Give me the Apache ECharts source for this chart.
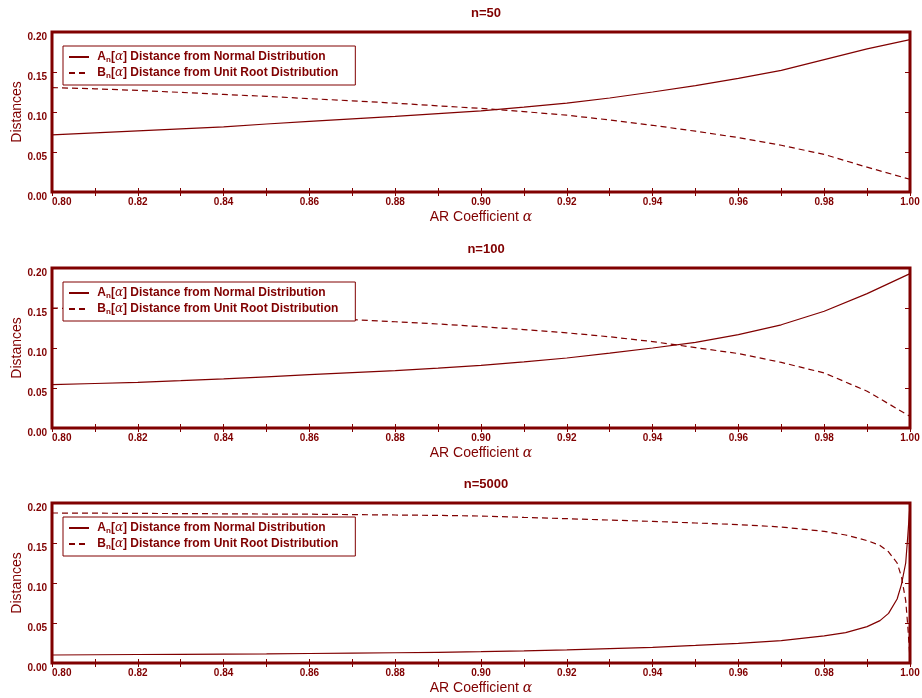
<!DOCTYPE html>
<html>
<head>
<meta charset="utf-8">
<script src="https://cdn.jsdelivr.net/npm/echarts@6/dist/echarts.min.js"></script>
<style>
  html, body { margin: 0; padding: 0; background: #fff; }
  #chart { width: 922px; height: 698px; }
</style>
</head>
<body>
<div id="chart"></div>
<script>
  // AR coefficient grid for n=50 and n=100
  const alpha = [0.80, 0.81, 0.82, 0.83, 0.84, 0.85, 0.86, 0.87, 0.88, 0.89, 0.90,
                 0.91, 0.92, 0.93, 0.94, 0.95, 0.96, 0.97, 0.98, 0.99, 1.00];
  const a50 = [0.0715, 0.074, 0.0765, 0.079, 0.0815, 0.085, 0.0884, 0.0915, 0.0946, 0.098, 0.1015,
               0.106, 0.111, 0.1175, 0.125, 0.133, 0.142, 0.152, 0.1655, 0.179, 0.1905];
  const b50 = [0.1305, 0.129, 0.127, 0.1245, 0.122, 0.1195, 0.1167, 0.114, 0.111, 0.1077, 0.1045,
               0.1005, 0.096, 0.090, 0.0834, 0.076, 0.068, 0.0584, 0.047, 0.031, 0.0159];
  const a100 = [0.0542, 0.0556, 0.0571, 0.0591, 0.0613, 0.064, 0.0667, 0.0692, 0.0717, 0.0748, 0.0784,
                0.0827, 0.0875, 0.0935, 0.100, 0.107, 0.1167, 0.129, 0.146, 0.168, 0.193];
  const b100 = [0.150, 0.148, 0.146, 0.1443, 0.1425, 0.1405, 0.138, 0.1355, 0.1328, 0.130, 0.1267,
                0.123, 0.119, 0.114, 0.108, 0.1005, 0.093, 0.082, 0.0688, 0.046, 0.0146];
  // n=5000 needs a finer grid near the unit root
  const alpha5000 = [0.80, 0.81, 0.82, 0.83, 0.84, 0.85, 0.86, 0.87, 0.88, 0.89, 0.90,
                     0.91, 0.92, 0.93, 0.94, 0.95, 0.96, 0.97, 0.98, 0.985, 0.99,
                     0.993, 0.995, 0.997, 0.998, 0.999, 0.9995, 1.00];
  const a5000 = [0.0100, 0.0103, 0.0106, 0.0109, 0.0112, 0.0115, 0.0119, 0.0123, 0.0128, 0.0134, 0.0141,
                 0.0152, 0.0165, 0.0180, 0.0196, 0.022, 0.0246, 0.028, 0.034, 0.038, 0.0455,
                 0.053, 0.062, 0.080, 0.098, 0.125, 0.160, 0.198];
  const b5000 = [0.1875, 0.1873, 0.187, 0.1868, 0.1865, 0.1862, 0.186, 0.1855, 0.185, 0.1845, 0.1837,
                 0.182, 0.1804, 0.1787, 0.177, 0.175, 0.173, 0.170, 0.1645, 0.160, 0.153,
                 0.147, 0.139, 0.125, 0.108, 0.078, 0.045, 0.005];

  const nameA = 'A_n(alpha) Distance from Normal Distribution';
  const nameB = 'B_n(alpha) Distance from Unit Root Distribution';

  const red = '#800000';
  const font = 'Liberation Sans';

  let chart = echarts.init(document.getElementById('chart'));

  const panels = [
    {title: 'n=50', x: alpha, a: a50, b: b50, top: 32},
    {title: 'n=100', x: alpha, a: a100, b: b100, top: 268},
    {title: 'n=5000', x: alpha5000, a: a5000, b: b5000, top: 503}
  ];

  let option = {
    animation: false,
    backgroundColor: '#fff',
    title: [], grid: [], xAxis: [], yAxis: [], legend: [], series: []
  };

  const rich = {
    t: {fontFamily: font, fontWeight: 'bold', fontSize: 12, color: red},
    s: {fontFamily: font, fontWeight: 'bold', fontSize: 8, color: red, padding: [6, 0, 0, 0]},
    g: {fontFamily: 'DejaVu Serif', fontStyle: 'italic', fontSize: 12, color: red}
  };

  panels.forEach((p, i) => {
    option.title.push({
      text: p.title,
      left: 481,
      top: p.top - 30,
      textAlign: 'center',
      textStyle: {fontFamily: font, fontWeight: 'bold', fontSize: 13, color: red}
    });
    option.grid.push({
      left: 52, right: 12, top: p.top, height: 160,
      outerBoundsMode: 'none',
      show: true, borderColor: red, borderWidth: 3, backgroundColor: '#fff'
    });
    // bottom axis with labels, top axis only for ticks
    option.xAxis.push({
      gridIndex: i, type: 'value', min: 0.8, max: 1.0, interval: 0.02,
      name: '{t|AR Coefficient }{g|α}',
      nameLocation: 'middle', nameGap: 18,
      nameMoveOverlap: false,
      nameTextStyle: {
        rich: {
          t: {fontFamily: font, fontSize: 14, color: red},
          g: {fontFamily: 'DejaVu Serif', fontStyle: 'italic', fontSize: 14, color: red}
        }
      },
      axisLine: {show: false},
      axisTick: {inside: true, length: 4, lineStyle: {color: red, width: 1}},
      minorTick: {show: true, splitNumber: 2, length: 4, lineStyle: {color: red, width: 1}},
      splitLine: {show: false},
      axisLabel: {
        margin: 5, alignMinLabel: 'left',
        fontFamily: font, fontWeight: 'bold', fontSize: 10, color: red,
        formatter: v => v.toFixed(2)
      }
    });
    option.xAxis.push({
      gridIndex: i, type: 'value', position: 'top', min: 0.8, max: 1.0, interval: 0.02,
      axisLine: {show: false},
      axisTick: {inside: true, length: 4, lineStyle: {color: red, width: 1}},
      minorTick: {show: true, splitNumber: 2, length: 4, lineStyle: {color: red, width: 1}},
      splitLine: {show: false},
      axisLabel: {show: false}
    });
    option.yAxis.push({
      gridIndex: i, type: 'value', min: 0, max: 0.2, interval: 0.05,
      name: 'Distances', nameLocation: 'middle', nameGap: 28,
      nameMoveOverlap: false,
      nameTextStyle: {fontFamily: font, fontSize: 14, color: red},
      axisLine: {show: false},
      axisTick: {inside: true, length: 5, lineStyle: {color: red, width: 1}},
      splitLine: {show: false},
      axisLabel: {
        margin: 5, verticalAlign: 'top', lineHeight: 10,
        fontFamily: font, fontWeight: 'bold', fontSize: 10, color: red,
        formatter: v => v.toFixed(2)
      }
    });
    option.yAxis.push({
      gridIndex: i, type: 'value', position: 'right', min: 0, max: 0.2, interval: 0.05,
      axisLine: {show: false},
      axisTick: {inside: true, length: 5, lineStyle: {color: red, width: 1}},
      splitLine: {show: false},
      axisLabel: {show: false}
    });
    option.legend.push({
      left: 63, top: p.top + 14,
      orient: 'vertical',
      data: [nameA, nameB],
      selectedMode: false,
      itemWidth: 20, itemHeight: 10, itemGap: 3,
      padding: [5, 17, 5, 5],
      itemStyle: {opacity: 0},
      borderColor: red, borderWidth: 1, backgroundColor: '#fff',
      formatter: name => name === nameA
        ? '{t| A}{s|n}{t|[}{g|α}{t|] Distance from Normal Distribution}'
        : '{t| B}{s|n}{t|[}{g|α}{t|] Distance from Unit Root Distribution}',
      textStyle: {rich: rich}
    });
    option.series.push({
      name: nameA, type: 'line', xAxisIndex: 2 * i, yAxisIndex: 2 * i,
      symbol: 'none', smooth: false,
      lineStyle: {color: red, width: 1.2},
      itemStyle: {color: red},
      data: p.x.map((v, k) => [v, p.a[k]])
    });
    option.series.push({
      name: nameB, type: 'line', xAxisIndex: 2 * i, yAxisIndex: 2 * i,
      symbol: 'none', smooth: false,
      lineStyle: {color: red, width: 1.2, type: [6, 4]},
      itemStyle: {color: red},
      data: p.x.map((v, k) => [v, p.b[k]])
    });
  });

  chart.setOption(option);
</script>
</body>
</html>
